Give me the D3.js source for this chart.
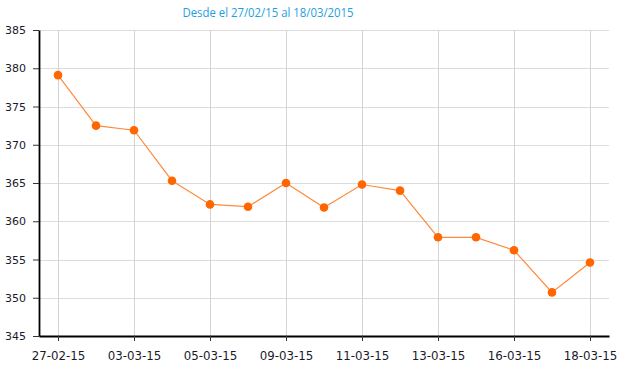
<!DOCTYPE html>
<html>
<head>
<meta charset="utf-8">
<script src="https://cdn.jsdelivr.net/npm/d3@7"></script>
<style>
  body { margin: 0; background: #fff; }
  svg { display: block; }
</style>
</head>
<body>
<svg id="chart" width="620" height="375"></svg>
<script>
var dates = ["27-02-15", "02-03-15", "03-03-15", "04-03-15", "05-03-15", "06-03-15", "09-03-15",
  "10-03-15", "11-03-15", "12-03-15", "13-03-15", "14-03-15", "16-03-15", "17-03-15", "18-03-15"];
var values = [379.1, 372.5, 371.9, 365.3, 362.2, 361.9, 365.0, 361.8, 364.8, 364.0, 357.9, 357.9, 356.2, 350.7, 354.6];
var yTicks = [345, 350, 355, 360, 365, 370, 375, 380, 385];
var titleText = "Desde el 27/02/15 al 18/03/2015";

var svg = d3.select("#chart");
var plotLeft = 39, plotRight = 609, plotTop = 30, plotBottom = 336;

var x = d3.scalePoint().domain(dates).range([plotLeft, plotRight]).padding(0.5);
var y = d3.scaleLinear().domain([345, 385]).range([plotBottom, plotTop]);
var shownDates = dates.filter(function(d, i) { return i % 2 === 0; });

// grid
var grid = svg.append("g");
grid.selectAll("line.h").data(yTicks).enter().append("line")
  .attr("x1", plotLeft).attr("x2", plotRight)
  .attr("y1", function(d) { return Math.round(y(d)) + 0.5; })
  .attr("y2", function(d) { return Math.round(y(d)) + 0.5; })
  .attr("stroke", "#dcdcdc").attr("stroke-width", 1);
grid.selectAll("line.v").data(shownDates).enter().append("line")
  .attr("x1", function(d) { return Math.round(x(d)) + 0.5; })
  .attr("x2", function(d) { return Math.round(x(d)) + 0.5; })
  .attr("y1", plotTop).attr("y2", plotBottom)
  .attr("stroke", "#d4d4d4").attr("stroke-width", 1);

// axes
var yAxis = svg.append("g").attr("transform", "translate(" + plotLeft + ",0)")
  .call(d3.axisLeft(y).tickValues(yTicks).tickSize(6).tickPadding(7).tickSizeOuter(0));
var xAxis = svg.append("g").attr("transform", "translate(0," + plotBottom + ")")
  .call(d3.axisBottom(x).tickValues(shownDates).tickSize(5).tickPadding(11).tickSizeOuter(0));

[yAxis, xAxis].forEach(function(a) {
  a.select(".domain").attr("stroke", "#000").attr("stroke-width", 1.8);
  a.selectAll(".tick line").attr("stroke", "#333");
  a.selectAll("text").attr("font-family", "DejaVu Sans, Verdana, sans-serif")
    .attr("font-size", "11px").attr("fill", "#1a1a2a");
});
xAxis.selectAll("text").attr("font-size", "11.8px");

// line + points
var line = d3.line()
  .x(function(d, i) { return x(dates[i]); })
  .y(function(d) { return y(d); });
svg.append("path").datum(values)
  .attr("d", line)
  .attr("fill", "none")
  .attr("stroke", "#ff8a3d")
  .attr("stroke-width", 1.2);
svg.append("g").selectAll("circle").data(values).enter().append("circle")
  .attr("cx", function(d, i) { return x(dates[i]); })
  .attr("cy", function(d) { return y(d); })
  .attr("r", 4.3)
  .attr("fill", "#ff6600");

// title
svg.append("text")
  .attr("x", 268).attr("y", 17)
  .attr("text-anchor", "middle")
  .attr("font-family", "Open Sans, Noto Sans, sans-serif")
  .attr("font-size", "12.5px")
  .attr("textLength", 171)
  .attr("lengthAdjust", "spacingAndGlyphs")
  .attr("fill", "#1ea0e0")
  .text(titleText);
</script>
</body>
</html>
